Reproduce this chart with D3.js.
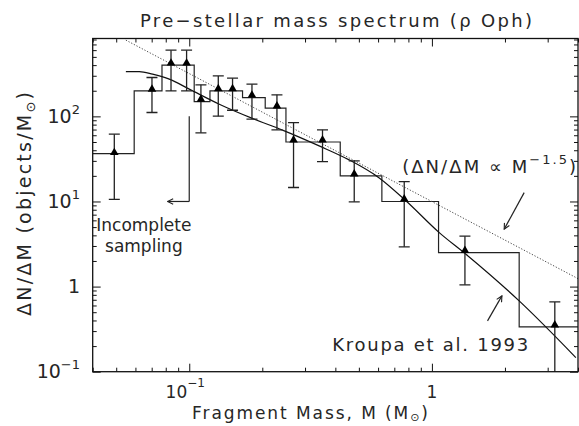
<!DOCTYPE html>
<html>
<head>
<meta charset="utf-8">
<script src="https://cdn.jsdelivr.net/npm/d3@7"></script>
<style>
  html, body { margin: 0; padding: 0; background: #fff; }
  svg { display: block; font-family: "DejaVu Sans", sans-serif; }
  text { fill: #262626; }
</style>
</head>
<body>
<svg id="chart" width="579" height="426"></svg>
<script>
// histogram steps (bin edges in M_sun, level in objects/M_sun)
const binEdges = [0.04, 0.0593, 0.0772, 0.1048, 0.1217, 0.1658, 0.2056, 0.2503, 0.419, 0.622, 1.065, 2.289, 4.0];
const binLevels = [36.5, 199, 400, 149, 199, 166, 125, 50, 20, 10, 2.51, 0.336];

// fragments with error bars
const pointMass  = [0.0491, 0.0702, 0.0841, 0.0975, 0.1117, 0.1317, 0.1508, 0.1813, 0.2298, 0.269, 0.3541, 0.4785, 0.769, 1.368, 3.21];
const pointValue = [36.5, 203, 411, 411, 155, 205, 205, 173, 129, 51.5, 51.5, 20.5, 10.4, 2.58, 0.345];
const errLow     = [10.6, 111, 199, 199, 64, 100.5, 118, 92.7, 69.4, 14.6, 29.4, 9.9, 2.93, 1.05, 0.05];
const errHigh    = [61.8, 286, 600, 600, 235, 299, 281, 239, 179, 84.6, 69.4, 30, 17.1, 3.91, 0.661];

// Kroupa et al. 1993 IMF
const kroupaMass  = [0.0548, 0.0622, 0.0706, 0.0827, 0.1, 0.133, 0.182, 0.2423, 0.343, 0.456, 0.6066, 0.781, 1.072, 1.381, 2.289, 3.92];
const kroupaValue = [336, 336, 313, 274, 209, 139, 94.7, 69, 45, 30.8, 18.9, 10.2, 4.31, 2.4, 0.679, 0.1465];

// dN/dM ~ M^-1.5 reference line
const slopeMass  = [0.0548, 4.0];
const slopeValue = [786, 1.24];

// tick labels
const xMajor = [0.1, 1];
const xLabels = [["10", "\u22121"], ["1", ""]];
const yMajor = [0.1, 1, 10, 100];
const yLabels = [["10", "\u22121"], ["1", ""], ["10", "1"], ["10", "2"]];

const svg = d3.select("#chart");
const padLeft = 92.7, padRight = 578, padTop = 38.5, padBottom = 371.7;

let x = d3.scaleLog().domain([0.04, 4]).range([padLeft, padRight]);
let y = d3.scaleLog().domain([0.1, 822]).range([padBottom, padTop]);

svg.append("clipPath").attr("id", "plotclip")
    .append("rect")
    .attr("x", padLeft).attr("y", padTop)
    .attr("width", padRight - padLeft).attr("height", padBottom - padTop);

const plot = svg.append("g").attr("clip-path", "url(#plotclip)");

// histogram
let steps = [];
binLevels.forEach((v, i) => {
    steps.push([binEdges[i], v]);
    steps.push([binEdges[i + 1], v]);
});
plot.append("path")
    .attr("d", d3.line().x(d => x(d[0])).y(d => y(d[1]))(steps))
    .attr("fill", "none")
    .attr("stroke", "#222")
    .attr("stroke-width", 1.2);

// power law (dotted)
plot.append("path")
    .attr("d", d3.line().x(d => x(d[0])).y(d => y(d[1]))(d3.zip(slopeMass, slopeValue)))
    .attr("fill", "none")
    .attr("stroke", "#444")
    .attr("stroke-width", 1)
    .attr("stroke-dasharray", "1.2,1.8");

// Kroupa curve
plot.append("path")
    .attr("d", d3.line().curve(d3.curveMonotoneX).x(d => x(d[0])).y(d => y(d[1]))(d3.zip(kroupaMass, kroupaValue)))
    .attr("fill", "none")
    .attr("stroke", "#111")
    .attr("stroke-width", 1.2);

// error bars
let cap = 5.5;
pointMass.forEach((m, i) => {
    let g = plot.append("g").attr("stroke", "#222").attr("stroke-width", 1.3);
    g.append("line")
        .attr("x1", x(m)).attr("x2", x(m))
        .attr("y1", y(errLow[i])).attr("y2", y(errHigh[i]));
    g.append("line")
        .attr("x1", x(m) - cap).attr("x2", x(m) + cap)
        .attr("y1", y(errHigh[i])).attr("y2", y(errHigh[i]));
    g.append("line")
        .attr("x1", x(m) - cap).attr("x2", x(m) + cap)
        .attr("y1", y(errLow[i])).attr("y2", y(errLow[i]));
});

// triangles
plot.selectAll(".pt")
    .data(d3.zip(pointMass, pointValue))
    .join("path")
    .attr("class", "pt")
    .attr("transform", d => "translate(" + x(d[0]) + "," + (y(d[1]) - 1) + ")")
    .attr("d", d3.symbol(d3.symbolTriangle, 32))
    .attr("fill", "#000");

// frame + ticks (inward, all four sides)
function ticks(axisFn, scale, transform, values, size) {
    let g = svg.append("g")
        .attr("transform", transform)
        .call(axisFn(scale).tickValues(values).tickSize(-size).tickFormat(""));
    g.select(".domain").remove();
    g.selectAll("line").attr("stroke", "#111").attr("stroke-width", 1);
}
let xMinor = x.ticks().filter(v => !xMajor.includes(v));
let yMinor = y.ticks().filter(v => !yMajor.includes(v) && v < 822);

ticks(d3.axisBottom, x, "translate(0," + padBottom + ")", xMinor, 4);
ticks(d3.axisBottom, x, "translate(0," + padBottom + ")", xMajor, 8);
ticks(d3.axisTop, x, "translate(0," + padTop + ")", xMinor, 4);
ticks(d3.axisTop, x, "translate(0," + padTop + ")", xMajor, 8);
ticks(d3.axisLeft, y, "translate(" + padLeft + ",0)", yMinor, 4);
ticks(d3.axisLeft, y, "translate(" + padLeft + ",0)", yMajor, 8);
ticks(d3.axisRight, y, "translate(" + padRight + ",0)", yMinor, 4);
ticks(d3.axisRight, y, "translate(" + padRight + ",0)", yMajor, 8);

svg.append("rect")
    .attr("x", padLeft).attr("y", padTop)
    .attr("width", padRight - padLeft).attr("height", padBottom - padTop)
    .attr("fill", "none")
    .attr("stroke", "#111")
    .attr("stroke-width", 1.3);

// tick labels
function powLabel(sel, base, exp, supSize, rise) {
    sel.append("tspan").text(base);
    if (exp) {
        sel.append("tspan").text(exp)
            .attr("font-size", supSize)
            .attr("dy", -rise);
    }
}
yMajor.forEach((v, i) => {
    let t = svg.append("text")
        .attr("x", 80)
        .attr("y", y(v) + 6.5)
        .attr("text-anchor", "end")
        .attr("font-size", 19);
    powLabel(t, yLabels[i][0], yLabels[i][1], 13, 9);
});
xMajor.forEach((v, i) => {
    let t = svg.append("text")
        .attr("x", x(v) - (xLabels[i][1] ? 4 : 0))
        .attr("y", 398)
        .attr("text-anchor", "middle")
        .attr("font-size", 17);
    powLabel(t, xLabels[i][0], xLabels[i][1], 12, 11);
});

// titles
svg.append("text")
    .attr("x", 336).attr("y", 27)
    .attr("text-anchor", "middle")
    .attr("font-size", 18)
    .attr("textLength", 392)
    .attr("lengthAdjust", "spacing")
    .text("Pre\u2212stellar mass spectrum (\u03c1 Oph)");

let xt = svg.append("text")
    .attr("x", 192).attr("y", 419)
    .attr("font-size", 17)
    .attr("textLength", 236)
    .attr("lengthAdjust", "spacing");
xt.append("tspan").text("Fragment Mass, M (M");
xt.append("tspan").text("\u2299").attr("font-size", 11).attr("dy", 2);
xt.append("tspan").text(")").attr("dy", -2);

let yt = svg.append("text")
    .attr("transform", "translate(31,204) rotate(-90)")
    .attr("text-anchor", "middle")
    .attr("font-size", 19)
    .attr("textLength", 224)
    .attr("lengthAdjust", "spacing");
yt.append("tspan").text("\u0394N/\u0394M (objects/M");
yt.append("tspan").text("\u2299").attr("font-size", 13).attr("dy", 4);
yt.append("tspan").text(")").attr("dy", -4);

// annotations
svg.append("defs").append("marker")
    .attr("id", "head")
    .attr("viewBox", "0 0 10 10")
    .attr("refX", 9).attr("refY", 5)
    .attr("markerWidth", 7).attr("markerHeight", 7)
    .attr("markerUnits", "userSpaceOnUse")
    .attr("orient", "auto")
    .append("path")
    .attr("d", "M1,1 L9,5 L1,9")
    .attr("fill", "none")
    .attr("stroke", "#222")
    .attr("stroke-width", 1.6);

function arrow(m0, v0, m1, v1) {
    svg.append("line")
        .attr("x1", x(m0)).attr("y1", y(v0))
        .attr("x2", x(m1)).attr("y2", y(v1))
        .attr("stroke", "#222")
        .attr("stroke-width", 1.2)
        .attr("marker-end", "url(#head)");
}

// incomplete sampling limit
svg.append("line")
    .attr("x1", x(0.1)).attr("x2", x(0.1))
    .attr("y1", y(100)).attr("y2", y(10))
    .attr("stroke", "#333").attr("stroke-width", 1.3);
arrow(0.1, 10, 0.0814, 10);

let inc = svg.append("text")
    .attr("x", x(0.065)).attr("y", y(4.5))
    .attr("text-anchor", "middle")
    .attr("font-size", 17);
inc.append("tspan").attr("x", x(0.065)).text("Incomplete");
inc.append("tspan").attr("x", x(0.065)).attr("dy", 21).text("sampling");

let pl = svg.append("text")
    .attr("x", x(3.93)).attr("y", y(21.7))
    .attr("text-anchor", "end")
    .attr("font-size", 18)
    .attr("textLength", 174)
    .attr("lengthAdjust", "spacing");
pl.append("tspan").text("(\u0394N/\u0394M \u221d M");
pl.append("tspan").text("\u22121.5").attr("font-size", 13).attr("dy", -9);
pl.append("tspan").text(")").attr("dy", 9);
arrow(2.40, 12.7, 1.986, 4.73);

svg.append("text")
    .attr("x", x(2.494)).attr("y", y(0.1756))
    .attr("text-anchor", "end")
    .attr("font-size", 18)
    .attr("textLength", 196)
    .attr("lengthAdjust", "spacing")
    .text("Kroupa et al. 1993");
arrow(1.695, 0.395, 1.943, 0.777);
</script>
</body>
</html>
